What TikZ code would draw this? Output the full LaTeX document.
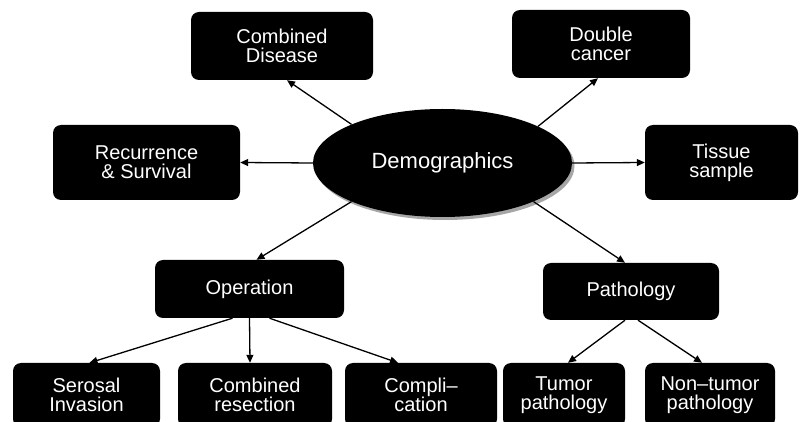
\documentclass[tikz,border=0pt]{standalone}
\usepackage{fontspec}
\setmainfont{Liberation Sans}
\usetikzlibrary{shapes.geometric,arrows.meta}

\tikzset{
  box/.style={rectangle, rounded corners=8pt, fill=black, text=white,
    inner sep=0pt, align=center, font=\fontsize{20}{19}\selectfont},
  hub/.style={ellipse, fill=black, text=white, inner sep=0pt,
    minimum width=259pt, minimum height=108pt, font=\fontsize{22}{26}\selectfont},
  link/.style={line width=1.3pt, -{Triangle[length=8pt,width=7pt]}},
}

\begin{document}
\begin{tikzpicture}[x=1pt, y=-1pt]
  \useasboundingbox (0,0) rectangle (804,422);
  \clip (0,0) rectangle (804,422);
  \fill[white] (0,0) rectangle (804,422);

  % soft shadow under the central ellipse
  \fill[black!35] (445,166) ellipse [x radius=129.5pt, y radius=54pt];
  \node[hub] (demo) at (442.5,163) {Demographics};

  % upper ring
  \node[box, minimum width=182pt, minimum height=68pt] (cd) at (282,46) {Combined\\Disease};
  \node[box, minimum width=178pt, minimum height=68pt] (dc) at (601,44) {Double\\cancer};
  \node[box, minimum width=187pt, minimum height=75pt] (rs) at (146.5,162.5) {Recurrence\\\& Survival};
  \node[box, minimum width=153pt, minimum height=75pt] (ts) at (721.5,162.5) {Tissue\\sample};

  % middle row
  \node[box, minimum width=189pt, minimum height=58pt] (op) at (249.5,289) {Operation};
  \node[box, minimum width=176pt, minimum height=57pt] (pa) at (631,291.5) {Pathology};

  % bottom row
  \node[box, minimum width=147pt, minimum height=64pt] (se) at (86.5,395) {Serosal\\Invasion};
  \node[box, minimum width=154pt, minimum height=64pt] (cr) at (255,395) {Combined\\resection};
  \node[box, minimum width=152pt, minimum height=64pt] (co) at (421,395) {Compli--\\cation};
  \node[box, minimum width=122pt, minimum height=64pt] (tu) at (564,395) {Tumor\\pathology};
  \node[box, minimum width=130pt, minimum height=64pt] (nt) at (710,395) {Non--tumor\\pathology};

  % connectors from the hub
  \draw[link] (demo.157.7) -- ([xshift=5pt]cd.south);
  \draw[link] (demo.21.7) -- ([xshift=-3pt]dc.south);
  \draw[link] (demo.180) -- (rs.east);
  \draw[link] (demo.0) -- (ts.west);
  \draw[link] (demo.203.8) -- ([xshift=7pt]op.north);
  \draw[link] (demo.337.1) -- ([xshift=-6pt]pa.north);

  % connectors below Operation
  \draw[link] ([xshift=-17pt]op.south) -- ([xshift=3pt]se.north);
  \draw[link] (op.south) -- ([xshift=-5pt]cr.north);
  \draw[link] ([xshift=20pt]op.south) -- ([xshift=-23pt]co.north);

  % connectors below Pathology
  \draw[link] ([xshift=-6pt]pa.south) -- ([xshift=4pt]tu.north);
  \draw[link] ([xshift=7pt]pa.south) -- ([xshift=-8pt]nt.north);
\end{tikzpicture}
\end{document}
